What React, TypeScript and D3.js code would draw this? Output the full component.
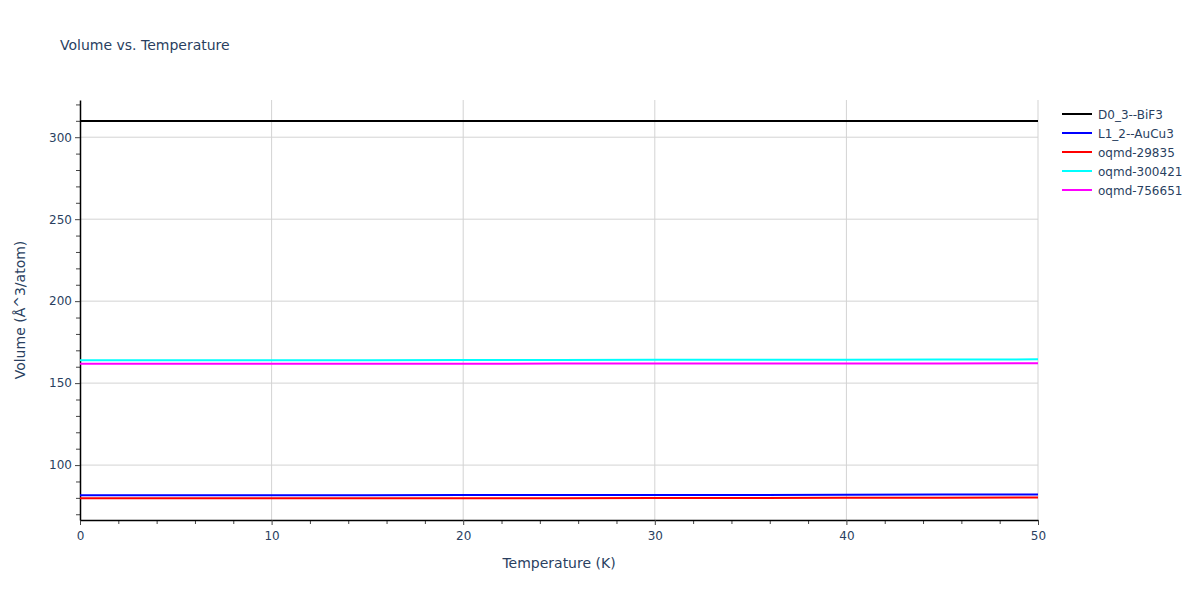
import { useEffect, useRef } from 'react'
import * as d3 from 'd3'

const WIDTH = 1200
const HEIGHT = 600
const MARGIN = { top: 100, right: 162, bottom: 80, left: 80 }
const FONT = '"DejaVu Sans", Verdana, sans-serif'
const TEXT = '#2a3f5f'

const temperatures = [0, 5, 10, 15, 20, 25, 30, 35, 40, 45, 50]
const seriesNames = ['D0_3--BiF3', 'L1_2--AuCu3', 'oqmd-29835', 'oqmd-300421', 'oqmd-756651']
const seriesColors = ['#000000', '#0000ff', '#ff0000', '#00ffff', '#ff00ff']
const bif3 = [309.9, 309.9, 309.9, 309.9, 309.9, 309.9, 309.9, 309.9, 309.9, 309.9, 309.9]
const aucu3 = [81.6, 81.6, 81.6, 81.6, 81.7, 81.7, 81.7, 81.8, 81.9, 82.0, 82.1]
const oqmd29835 = [79.8, 79.8, 79.8, 79.8, 79.8, 79.8, 79.9, 79.9, 80.0, 80.1, 80.2]
const oqmd300421 = [164.0, 164.0, 164.0, 164.0, 164.1, 164.1, 164.2, 164.2, 164.3, 164.4, 164.5]
const oqmd756651 = [161.8, 161.8, 161.8, 161.8, 161.8, 161.9, 161.9, 161.9, 162.0, 162.0, 162.1]
const seriesValues = [bif3, aucu3, oqmd29835, oqmd300421, oqmd756651]

const xTicks = [0, 10, 20, 30, 40, 50]
const yTicks = [100, 150, 200, 250, 300]

export default function App() {
  const svgRef = useRef<SVGSVGElement>(null)

  useEffect(() => {
    const svg = d3.select(svgRef.current)
    svg.selectAll('*').remove()

    const innerWidth = WIDTH - MARGIN.left - MARGIN.right
    const innerHeight = HEIGHT - MARGIN.top - MARGIN.bottom

    const x = d3.scaleLinear([0, 50], [0, innerWidth])
    const y = d3.scaleLinear([66.5, 322.7], [innerHeight, 0])

    const g = svg.append('g').attr('transform', `translate(${MARGIN.left},${MARGIN.top})`)

    // grid
    g.append('g')
      .selectAll('line')
      .data(xTicks.filter(d => d !== 0))
      .join('line')
      .attr('x1', d => x(d)).attr('x2', d => x(d))
      .attr('y1', 0).attr('y2', innerHeight)
      .attr('stroke', '#d3d3d3').attr('stroke-width', 1)

    g.append('g')
      .selectAll('line')
      .data(yTicks)
      .join('line')
      .attr('x1', 0).attr('x2', innerWidth)
      .attr('y1', d => y(d)).attr('y2', d => y(d))
      .attr('stroke', '#d3d3d3').attr('stroke-width', 1)

    // minor ticks
    const xMinor = d3.range(0, 51, 2).filter(d => d % 10 !== 0)
    g.append('g')
      .attr('transform', `translate(0,${innerHeight})`)
      .call(d3.axisBottom(x).tickValues(xMinor).tickSize(4).tickFormat(() => ''))
      .call(ag => ag.select('.domain').remove())
      .call(ag => ag.selectAll('.tick line').attr('stroke', '#444'))

    const yMinor = d3.range(70, 321, 10).filter(d => d % 50 !== 0)
    g.append('g')
      .call(d3.axisLeft(y).tickValues(yMinor).tickSize(4).tickFormat(() => ''))
      .call(ag => ag.select('.domain').remove())
      .call(ag => ag.selectAll('.tick line').attr('stroke', '#444'))

    // axes
    g.append('g')
      .attr('transform', `translate(0,${innerHeight})`)
      .call(d3.axisBottom(x).tickValues(xTicks).tickSize(5).tickSizeOuter(0).tickPadding(6))
      .call(ag => ag.select('.domain').attr('stroke', '#000').attr('stroke-width', 1.5))
      .call(ag => ag.selectAll('.tick line').attr('stroke', '#444'))
      .call(ag => ag.selectAll('text').attr('fill', TEXT).attr('font-size', 12).attr('font-family', FONT))

    g.append('g')
      .call(d3.axisLeft(y).tickValues(yTicks).tickSize(5).tickSizeOuter(0).tickPadding(3))
      .call(ag => ag.select('.domain').attr('stroke', '#000').attr('stroke-width', 1.5))
      .call(ag => ag.selectAll('.tick line').attr('stroke', '#444'))
      .call(ag => ag.selectAll('text').attr('fill', TEXT).attr('font-size', 12).attr('font-family', FONT))

    // lines
    const line = d3.line<number>()
      .x((_, i) => x(temperatures[i]))
      .y(d => y(d))

    seriesValues.forEach((vals, i) => {
      g.append('path')
        .datum(vals)
        .attr('d', line)
        .attr('fill', 'none')
        .attr('stroke', seriesColors[i])
        .attr('stroke-width', 2)
    })

    // titles
    svg.append('text')
      .attr('x', 60).attr('y', 50)
      .attr('font-size', 14).attr('fill', TEXT).attr('font-family', FONT)
      .text('Volume vs. Temperature')

    svg.append('text')
      .attr('x', MARGIN.left + innerWidth / 2).attr('y', 568)
      .attr('text-anchor', 'middle')
      .attr('font-size', 14).attr('fill', TEXT).attr('font-family', FONT)
      .text('Temperature (K)')

    svg.append('text')
      .attr('transform', `translate(25,${MARGIN.top + innerHeight / 2}) rotate(-90)`)
      .attr('text-anchor', 'middle')
      .attr('font-size', 14).attr('fill', TEXT).attr('font-family', FONT)
      .text('Volume (Å^3/atom)')

    // legend
    const legend = svg.append('g').attr('transform', 'translate(1062,114)')
    seriesNames.forEach((name, i) => {
      const row = legend.append('g').attr('transform', `translate(0,${i * 19})`)
      row.append('line')
        .attr('x1', 0).attr('x2', 30)
        .attr('stroke', seriesColors[i]).attr('stroke-width', 2)
      row.append('text')
        .attr('x', 36).attr('y', 4.5)
        .attr('font-size', 12).attr('fill', TEXT).attr('font-family', FONT)
        .text(name)
    })
  }, [])

  return (
    <svg
      ref={svgRef}
      width={WIDTH}
      height={HEIGHT}
      style={{ display: 'block', position: 'absolute', left: 0, top: 0, background: '#fff' }}
    />
  )
}
